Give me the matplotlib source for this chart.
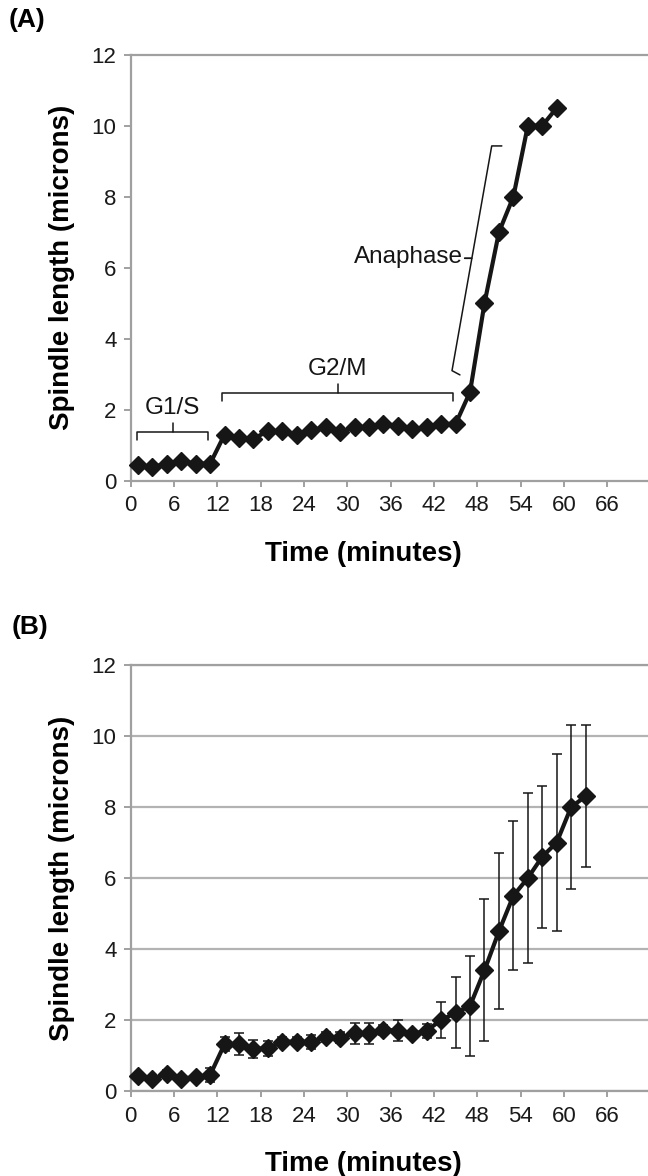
import matplotlib
matplotlib.use("Agg")
import matplotlib.pyplot as plt
import numpy as np

plt.rcParams['font.family'] = ['Liberation Sans', 'DejaVu Sans']

# Panel A: single-cell time course
time_a = [1, 3, 5, 7, 9, 11, 13, 15, 17, 19, 21, 23, 25, 27, 29, 31, 33, 35,
          37, 39, 41, 43, 45, 47, 49, 51, 53, 55, 57, 59]
length_a = [0.45, 0.38, 0.48, 0.55, 0.48, 0.48, 1.30, 1.20, 1.18, 1.40, 1.40,
            1.30, 1.42, 1.50, 1.38, 1.50, 1.50, 1.60, 1.55, 1.45, 1.50, 1.60,
            1.60, 2.50, 5.00, 7.00, 8.00, 10.00, 10.00, 10.50]

# Panel B: averaged time course with standard deviation
time_b = [1, 3, 5, 7, 9, 11, 13, 15, 17, 19, 21, 23, 25, 27, 29, 31, 33, 35,
          37, 39, 41, 43, 45, 47, 49, 51, 53, 55, 57, 59, 61, 63]
length_b = [0.41, 0.33, 0.49, 0.35, 0.39, 0.45, 1.32, 1.32, 1.19, 1.20, 1.39,
            1.39, 1.38, 1.52, 1.50, 1.62, 1.62, 1.72, 1.70, 1.60, 1.70, 2.00,
            2.20, 2.40, 3.40, 4.50, 5.50, 6.00, 6.60, 7.00, 8.00, 8.30]
sd_b = [0.10, 0.08, 0.10, 0.10, 0.08, 0.20, 0.20, 0.30, 0.25, 0.20, 0.12,
        0.12, 0.20, 0.15, 0.15, 0.30, 0.30, 0.15, 0.30, 0.10, 0.20, 0.50,
        1.00, 1.40, 2.00, 2.20, 2.10, 2.40, 2.00, 2.50, 2.30, 2.00]

x_ticks = [0, 6, 12, 18, 24, 30, 36, 42, 48, 54, 60, 66]
y_ticks = [0, 2, 4, 6, 8, 10, 12]

# Phase brackets for panel A: (start, end, height, label)
g1s = (0.92, 10.75, 1.38, "G1/S")
g2m = (12.7, 44.7, 2.48, "G2/M")
# Anaphase brace: lower end (time, length) and upper end (time, length)
ana_low = (44.5, 3.1)
ana_high = (50.0, 9.43)

W, H = 648, 1176
fig = plt.figure(figsize=(W / 100, H / 100), dpi=100)

axis_gray = '#a0a0a0'
ink = '#161616'

def px_axes(left, top, right, bottom):
    return fig.add_axes([left / W, 1 - bottom / H, (right - left) / W, (bottom - top) / H])

ax_a = px_axes(130.7, 54.7, 648.4, 480.7)
ax_b = px_axes(130.7, 665.0, 648.4, 1091.0)

for ax in (ax_a, ax_b):
    ax.set_xlim(0, 71.7)
    ax.set_ylim(0, 12)
    ax.set_xticks(x_ticks)
    ax.set_yticks(y_ticks)
    ax.spines['right'].set_visible(False)
    for side in ('left', 'bottom', 'top'):
        ax.spines[side].set_color(axis_gray)
        ax.spines[side].set_linewidth(1.6)
    ax.tick_params(axis='both', direction='out', color=axis_gray, width=1.4,
                   labelsize=16, labelcolor='#1a1a1a')
    ax.tick_params(axis='y', length=5.2, pad=5)
    ax.tick_params(axis='x', length=4.5, pad=6)
    ax.set_ylabel("Spindle length (microns)", fontsize=20, fontweight='bold')
    ax.yaxis.set_label_coords(-0.108, 0.5)
    ax.set_xlabel("Time (minutes)", fontsize=20, fontweight='bold')
    ax.xaxis.set_label_coords(0.449, -0.142)

# Panel A
ax_a.plot(time_a, length_a, color=ink, lw=3.0, marker='D', ms=9,
          mfc=ink, mec=ink, clip_on=False, zorder=3)

bk = dict(color=ink, lw=1.1, clip_on=False, solid_capstyle='round')
for start, end, hgt, label in (g1s, g2m):
    mid = (start + end) / 2
    ax_a.plot([start, start, end, end], [hgt - 0.23, hgt, hgt, hgt - 0.23], **bk)
    ax_a.plot([mid, mid], [hgt, hgt + 0.25], **bk)
    ax_a.text(mid - 0.1, hgt + 0.66, label, fontsize=17.5, ha='center',
              va='center', color=ink)

(t0, v0), (t1, v1) = ana_low, ana_high
tm, vm = (t0 + t1) / 2, (v0 + v1) / 2
ax_a.plot([t0 + 1.1, t0, tm, tm - 1.0], [v0 - 0.12, v0, vm, vm], **bk)
ax_a.plot([t1 + 1.4, t1, tm, tm - 1.0], [v1, v1, vm, vm], **bk)
ax_a.text(tm - 1.2, vm + 0.05, "Anaphase", fontsize=17.5, ha='right',
          va='center', color=ink)

# Panel B
ax_b.grid(axis='y', color='#b3b3b3', lw=1.6)
ax_b.set_axisbelow(True)
ax_b.errorbar(time_b, length_b, yerr=sd_b, color=ink, lw=3.0, marker='D',
              ms=9, mfc=ink, mec=ink, ecolor=ink, elinewidth=1.1,
              capsize=3.8, capthick=1.1, clip_on=False, zorder=3)

fig.text(9 / W, 1 - 20 / H, "(A)", fontsize=19, fontweight='bold',
         ha='left', va='center')
fig.text(12 / W, 1 - 627 / H, "(B)", fontsize=19, fontweight='bold',
         ha='left', va='center')

fig.savefig("out.png", dpi=100, facecolor='white')
